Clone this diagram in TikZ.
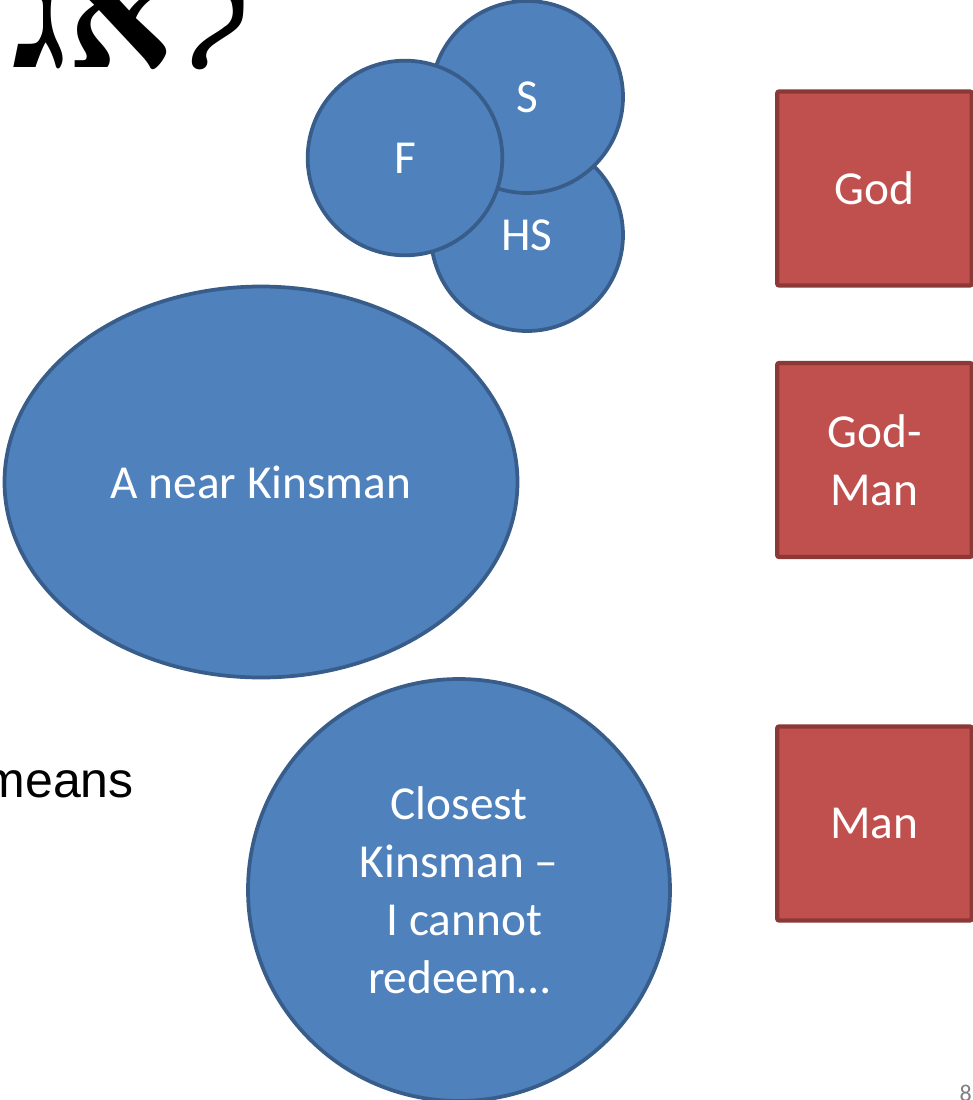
\documentclass[tikz,border=0pt]{standalone}
\usepackage{fontspec}
\setmainfont{Carlito}
\newfontfamily\hebfont[Script=Hebrew]{Liberation Serif}
\newfontfamily\arialfont{Liberation Sans}
\usetikzlibrary{shapes.geometric}
\definecolor{blueFill}{HTML}{4F81BD}
\definecolor{blueLine}{HTML}{385D8A}
\definecolor{redFill}{HTML}{C0504D}
\definecolor{redLine}{HTML}{8C3836}
\tikzset{
  bluecirc/.style={circle, draw=blueLine, fill=blueFill, line width=2.8pt, inner sep=0pt, text=white, align=center, font=\fontsize{35.5}{43.5}\selectfont},
  redbox/.style={rectangle, draw=redLine, fill=redFill, line width=3.2pt, rounded corners=1.5pt, inner sep=0pt, minimum width=146pt, minimum height=145.5pt, text=white, align=center, font=\fontsize{35.5}{43.5}\selectfont}
}
\begin{document}
\begin{tikzpicture}[x=0.75pt,y=0.75pt,yscale=-1]
%set diagram left start at 0, and has height of 1100
\useasboundingbox (0,0) rectangle (973,1100);

%Shape: Circle [id:HS]
\draw (527,235) node (HS) [bluecirc, minimum size=144pt] {HS};
%Shape: Circle [id:S]
\draw (527,97) node (S) [bluecirc, minimum size=144pt] {S};
%Shape: Circle [id:F]
\draw (405,158) node (F) [bluecirc, minimum size=146pt] {F};

%Shape: Ellipse [id:near]
\draw (261,482) node (near) [bluecirc, ellipse, minimum width=384.75pt, minimum height=293.25pt] {A near Kinsman};

%Shape: Circle [id:closest]
\draw (459,890) node (closest) [bluecirc, minimum size=316.5pt] {};
\draw (closest.center) node (closesttext) [text=white, align=center, inner sep=0pt, font=\fontsize{35.5}{43.5}\selectfont] {Closest\\Kinsman --\\\ I cannot\\redeem\ldots};

%Shape: Rectangle [id:god]
\draw (874.5,188.5) node (god) [redbox] {God};
%Shape: Rectangle [id:godman]
\draw (874.5,460) node (godman) [redbox] {God-\\Man};
%Shape: Rectangle [id:man]
\draw (874.5,823.5) node (man) [redbox] {Man};

% Text Node
\draw (12,67) node (goel) [anchor=base west, inner sep=0pt, font=\hebfont\bfseries\fontsize{125}{130}\selectfont] {לאג};
% Text Node
\draw (134,797) node (means) [anchor=base east, inner sep=0pt, font=\arialfont\fontsize{37.5}{44}\selectfont] {means};
% Text Node
\draw (972,1101) node (pagenum) [anchor=base east, inner sep=0pt, text=gray, font=\fontsize{18}{20}\selectfont] {8};

\end{tikzpicture}
\end{document}
